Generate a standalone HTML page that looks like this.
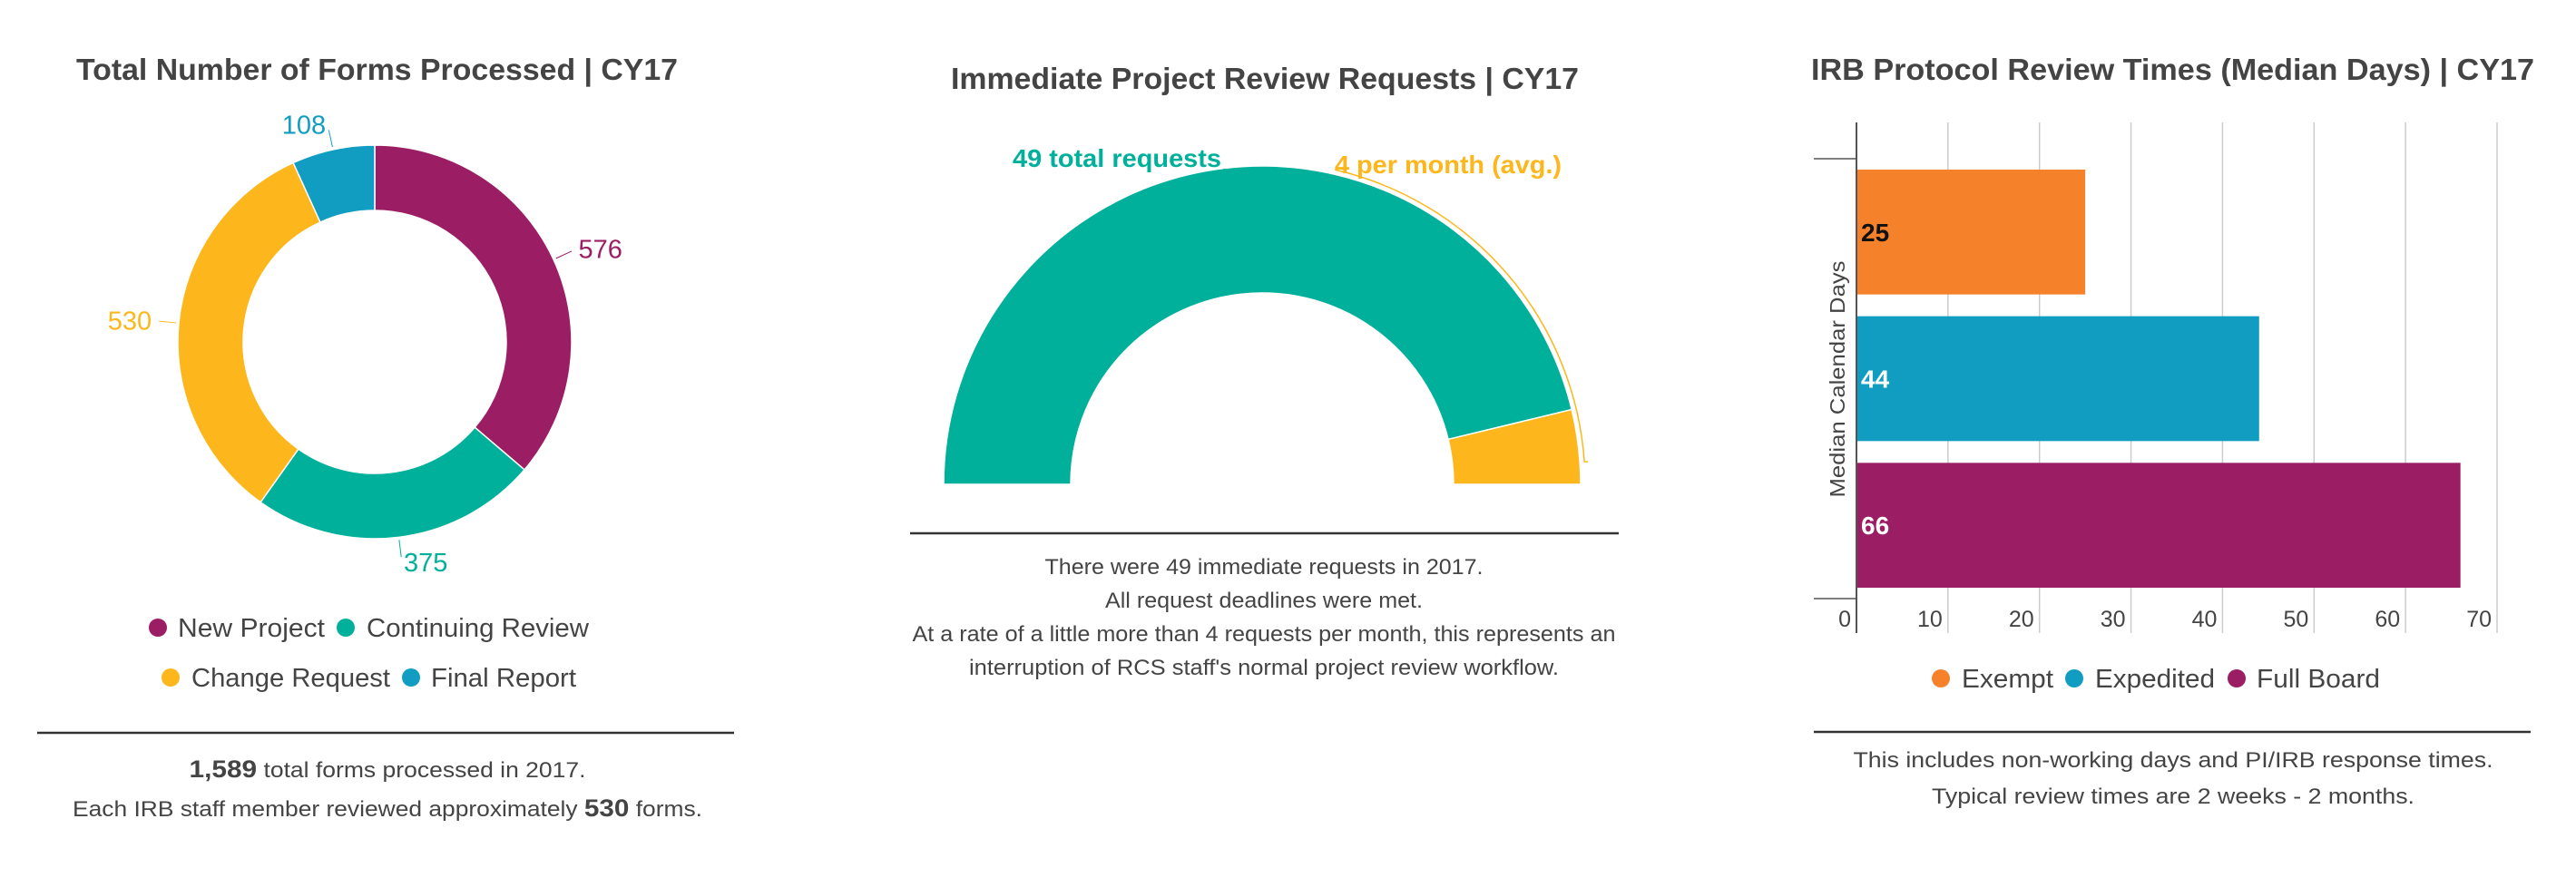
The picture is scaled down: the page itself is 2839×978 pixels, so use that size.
<!DOCTYPE html>
<html><head><meta charset="utf-8">
<style>
html,body{margin:0;padding:0;background:#fff;}
svg{display:block;font-family:"Liberation Sans",sans-serif;}
.t{font-weight:bold;fill:#444;font-size:33px;}
.f{fill:#444;font-size:24px;}
.lg{fill:#444;font-size:29px;}
</style></head>
<body>
<svg id="svg" width="2839" height="978" viewBox="0 0 2839 978" xmlns="http://www.w3.org/2000/svg">
  <!-- Panel 1 -->
  <text class="t" x="84" y="88" textLength="663" lengthAdjust="spacingAndGlyphs">Total Number of Forms Processed | CY17</text>
  <g id="donut"></g>
  <g>
    <circle cx="174" cy="692" r="10" fill="#9b1d63"/>
    <text class="lg" x="196" y="702" textLength="162" lengthAdjust="spacingAndGlyphs">New Project</text>
    <circle cx="381" cy="692" r="10" fill="#00b09a"/>
    <text class="lg" x="404" y="702" textLength="245" lengthAdjust="spacingAndGlyphs">Continuing Review</text>
    <circle cx="188" cy="747" r="10" fill="#fdb71d"/>
    <text class="lg" x="211" y="757" textLength="219" lengthAdjust="spacingAndGlyphs">Change Request</text>
    <circle cx="453" cy="747" r="10" fill="#119dc2"/>
    <text class="lg" x="475" y="757" textLength="160" lengthAdjust="spacingAndGlyphs">Final Report</text>
  </g>
  <line x1="41" y1="808" x2="809" y2="808" stroke="#333" stroke-width="2.5"/>
  <text class="f" x="427" y="857" text-anchor="middle" textLength="437" lengthAdjust="spacingAndGlyphs"><tspan font-weight="bold" font-size="27">1,589</tspan> total forms processed in 2017.</text>
  <text class="f" x="427" y="900" text-anchor="middle" textLength="694" lengthAdjust="spacingAndGlyphs">Each IRB staff member reviewed approximately <tspan font-weight="bold" font-size="27">530</tspan> forms.</text>

  <!-- Panel 2 -->
  <text class="t" x="1048" y="98" textLength="692" lengthAdjust="spacingAndGlyphs">Immediate Project Review Requests | CY17</text>
  <g id="gauge"></g>
  <line x1="1003" y1="588" x2="1784" y2="588" stroke="#333" stroke-width="2.5"/>
  <text class="f" x="1393" y="633" text-anchor="middle" textLength="483" lengthAdjust="spacingAndGlyphs">There were 49 immediate requests in 2017.</text>
  <text class="f" x="1393" y="670" text-anchor="middle" textLength="350" lengthAdjust="spacingAndGlyphs">All request deadlines were met.</text>
  <text class="f" x="1393" y="707" text-anchor="middle" textLength="775" lengthAdjust="spacingAndGlyphs">At a rate of a little more than 4 requests per month, this represents an</text>
  <text class="f" x="1393" y="744" text-anchor="middle" textLength="650" lengthAdjust="spacingAndGlyphs">interruption of RCS staff's normal project review workflow.</text>

  <!-- Panel 3 -->
  <text class="t" x="1996" y="88" textLength="797" lengthAdjust="spacingAndGlyphs">IRB Protocol Review Times (Median Days) | CY17</text>
  <g id="bars"></g>
  <text x="0" y="0" transform="translate(2033,418) rotate(-90)" text-anchor="middle" font-size="23" fill="#444" textLength="261" lengthAdjust="spacingAndGlyphs">Median Calendar Days</text>
  <g>
    <circle cx="2139" cy="748" r="10" fill="#f5822a"/>
    <text class="lg" x="2162" y="758" textLength="101" lengthAdjust="spacingAndGlyphs">Exempt</text>
    <circle cx="2286" cy="748" r="10" fill="#119dc2"/>
    <text class="lg" x="2309" y="758" textLength="132" lengthAdjust="spacingAndGlyphs">Expedited</text>
    <circle cx="2465" cy="748" r="10" fill="#9b1d63"/>
    <text class="lg" x="2487" y="758" textLength="136" lengthAdjust="spacingAndGlyphs">Full Board</text>
  </g>
  <line x1="1999" y1="807" x2="2789" y2="807" stroke="#333" stroke-width="2.5"/>
  <text class="f" x="2395" y="846" text-anchor="middle" textLength="705" lengthAdjust="spacingAndGlyphs">This includes non-working days and PI/IRB response times.</text>
  <text class="f" x="2395" y="886" text-anchor="middle" textLength="532" lengthAdjust="spacingAndGlyphs">Typical review times are 2 weeks - 2 months.</text>
</svg>
<script>
var NS = "http://www.w3.org/2000/svg";
// Donut data
var formCategories = ["New Project", "Continuing Review", "Change Request", "Final Report"];
var formValues = [576, 375, 530, 108];
var formColors = ["#9b1d63", "#00b09a", "#fdb71d", "#119dc2"];
// Gauge data
var requestCategories = ["49 total requests", "4 per month (avg.)"];
var requestValues = [49, 4];
// Bar data
var reviewCategories = ["Exempt", "Expedited", "Full Board"];
var reviewValues = [25, 44, 66];
var reviewTicks = [0, 10, 20, 30, 40, 50, 60, 70];

function mk(tag, attrs, parent) {
  var e = document.createElementNS(NS, tag);
  for (var k in attrs) e.setAttribute(k, attrs[k]);
  parent.appendChild(e);
  return e;
}
function pt(cx, cy, r, a) { return [cx + r * Math.cos(a), cy + r * Math.sin(a)]; }
function arcPath(cx, cy, r0, r1, a0, a1) {
  var large = (a1 - a0) > Math.PI ? 1 : 0;
  var p0 = pt(cx, cy, r1, a0), p1 = pt(cx, cy, r1, a1), p2 = pt(cx, cy, r0, a1), p3 = pt(cx, cy, r0, a0);
  return "M" + p0 + " A" + r1 + " " + r1 + " 0 " + large + " 1 " + p1 + " L" + p2 + " A" + r0 + " " + r0 + " 0 " + large + " 0 " + p3 + " Z";
}

// Donut
(function () {
  var g = document.getElementById("donut");
  var cx = 413, cy = 377, R = 217, r = 145;
  var total = formValues.reduce(function (a, b) { return a + b; }, 0);
  var a = -Math.PI / 2;
  for (var i = 0; i < formValues.length; i++) {
    var a1 = a + formValues[i] / total * 2 * Math.PI;
    var p = mk("path", { d: arcPath(cx, cy, r, R, a, a1), fill: formColors[i], stroke: "#fff", "stroke-width": 1.5 }, g);
    
    
    var mid = (a + a1) / 2;
    var e1 = pt(cx, cy, R + 3, mid), e2 = pt(cx, cy, R + 22, mid);
    var ln = mk("line", { x1: e1[0], y1: e1[1], x2: e2[0], y2: e2[1], stroke: formColors[i], "stroke-width": 1 }, g);
    
    
    var right = Math.cos(mid) >= 0;
    var lp = pt(cx, cy, R + 28, mid);
    var tx = mk("text", { x: lp[0] + (right ? 2 : -2), y: lp[1] + 10, "text-anchor": right ? "start" : "end", fill: formColors[i], "font-size": 29 }, g);
    tx.textContent = formValues[i];
    
    
    a = a1;
  }
})();

// Gauge
(function () {
  var g = document.getElementById("gauge");
  var cx = 1391, cy = 534, R = 351, r = 211;
  var colors = ["#00b09a", "#fdb71d"];
  var total = requestValues.reduce(function (a, b) { return a + b; }, 0);
  var a = Math.PI;
  for (var i = 0; i < requestValues.length; i++) {
    var a1 = a + requestValues[i] / total * Math.PI;
    var p = mk("path", { d: arcPath(cx, cy, r, R, a, a1), fill: colors[i], stroke: "#fff", "stroke-width": 1.5 }, g);
    
    
    a = a1;
  }
  // leader for teal
  var ln = mk("line", { x1: 1349, y1: 186, x2: 1350, y2: 196, stroke: "#00b09a", "stroke-width": 1.5 }, g);
  
  
  // leader arc for yellow
  var s = pt(cx, cy, 356, -Math.PI * 77 / 180), e = pt(cx, cy, 356, -Math.PI * 4 / 180);
  var la = mk("path", { d: "M" + s + " A356 356 0 0 1 " + e + " l4 0", fill: "none", stroke: "#fdb71d", "stroke-width": 1.5 }, g);
  
  
  var t1 = mk("text", { x: 1116, y: 184, fill: "#00b09a", "font-size": 28, "font-weight": "bold", textLength: 230, lengthAdjust: "spacingAndGlyphs" }, g);
  t1.textContent = requestCategories[0];
  
  
  var t2 = mk("text", { x: 1471, y: 191, fill: "#fdb71d", "font-size": 28, "font-weight": "bold", textLength: 250, lengthAdjust: "spacingAndGlyphs" }, g);
  t2.textContent = requestCategories[1];
  
  
})();

// Bars
(function () {
  var g = document.getElementById("bars");
  var x0 = 2046, xPer = (2752 - 2046) / 70;
  function X(v) { return x0 + v * xPer; }
  var top = 175, bottom = 660, band = (bottom - top) / reviewValues.length, pad = 12;
  var colors = ["#f5822a", "#119dc2", "#9b1d63"];
  var labelColors = ["#111", "#fff", "#fff"];
  for (var i = 0; i < reviewTicks.length; i++) {
    var gx = X(reviewTicks[i]);
    if (i > 0) {
      var gl = mk("line", { x1: gx, y1: 135, x2: gx, y2: 698, stroke: "#ccc", "stroke-width": 1.5 }, g);
      
      
    }
    var tl = mk("text", { x: gx - 6, y: 691, "text-anchor": "end", fill: "#444", "font-size": 25 }, g);
    tl.textContent = reviewTicks[i];
    
    
  }
  for (var j = 0; j < reviewValues.length; j++) {
    var y = top + j * band + pad;
    var b = mk("rect", { x: x0, y: y, width: X(reviewValues[j]) - x0, height: band - 2 * pad, fill: colors[j] }, g);
    
    
    var bl = mk("text", { x: x0 + 5, y: y + (band - 2 * pad) / 2 + 10, fill: labelColors[j], "font-size": 28, "font-weight": "bold" }, g);
    bl.textContent = reviewValues[j];
    
    
  }
  var ax = mk("line", { x1: x0, y1: 135, x2: x0, y2: 698, stroke: "#555", "stroke-width": 2 }, g);
  
  
  var t1 = mk("line", { x1: 1999, y1: top, x2: x0, y2: top, stroke: "#555", "stroke-width": 1.5 }, g);
  
  
  var t2 = mk("line", { x1: 1999, y1: bottom, x2: x0, y2: bottom, stroke: "#555", "stroke-width": 1.5 }, g);
  
  
})();
</script>
</body></html>
